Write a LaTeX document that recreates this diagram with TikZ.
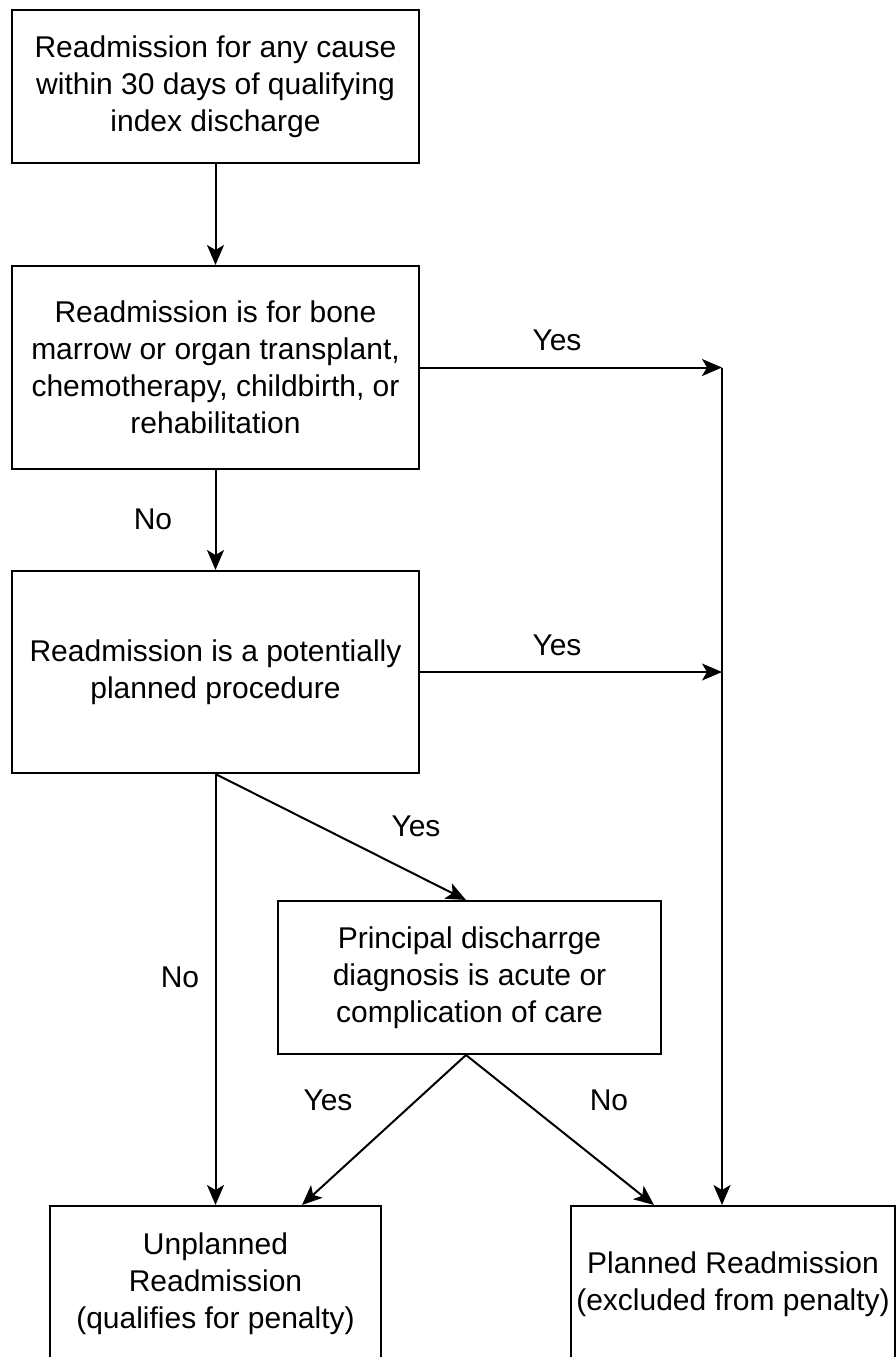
\documentclass[tikz,border=0pt]{standalone}
\usepackage{fontspec}
\setmainfont{Liberation Sans}
\usetikzlibrary{arrows.meta}
\begin{document}
\begin{tikzpicture}[x=1pt,y=-1pt,
  box/.style={draw, line width=2pt, inner sep=0pt, align=center, font=\fontsize{30}{37}\selectfont},
  arr/.style={line width=2pt, -{Stealth[length=20pt,width=17pt,inset=5pt]}},
  lbl/.style={font=\fontsize{30}{36}\selectfont, inner sep=0pt}]
\useasboundingbox (0,0) rectangle (896,1357);
\node[box, minimum width=407pt, minimum height=153pt] (b1) at (215.5,86.5)
  {Readmission for any cause\\within 30 days of qualifying\\index discharge};
\node[box, minimum width=407pt, minimum height=203pt] (b2) at (215.5,367.5)
  {Readmission is for bone\\marrow or organ transplant,\\chemotherapy, childbirth, or\\rehabilitation};
\node[box, minimum width=407pt, minimum height=202pt] (b3) at (215.5,672)
  {Readmission is a potentially\\planned procedure};
\node[box, minimum width=383pt, minimum height=153pt] (b4) at (469.5,977.5)
  {Principal discharrge\\diagnosis is acute or\\complication of care};
\node[box, minimum width=331pt, minimum height=156pt] (b5) at (215.5,1284)
  {Unplanned\\Readmission\\(qualifies for penalty)};
\node[box, minimum width=324pt, minimum height=156pt] (b6) at (733,1284)
  {Planned Readmission\\(excluded from penalty)};
\coordinate (j1) at (722,367.5);
\coordinate (j2) at (722,672);
\draw[arr] (b1.south) -- (b2.north);
\draw[arr] (b2.east) -- (j1);
\draw[arr] (b2.south) -- (b3.north);
\draw[arr] (b3.east) -- (j2);
\draw[arr] (j1) -- (j1 |- b6.north);
\draw[arr] (b3.south) -- (b5.north);
\draw[arr] (b3.south) -- ([xshift=-3.5pt]b4.north);
\draw[arr] ([xshift=-3.5pt]b4.south) -- ([xshift=86.5pt]b5.north);
\draw[arr] ([xshift=-3.5pt]b4.south) -- ([xshift=-79pt]b6.north);
\node[lbl] (l1) at (557,340) {Yes};
\node[lbl] (l2) at (557,645) {Yes};
\node[lbl] (l3) at (416,826) {Yes};
\node[lbl] (l4) at (328,1100) {Yes};
\node[lbl] (l5) at (153,519) {No};
\node[lbl] (l6) at (180,977) {No};
\node[lbl] (l7) at (609,1100) {No};
\end{tikzpicture}
\end{document}
